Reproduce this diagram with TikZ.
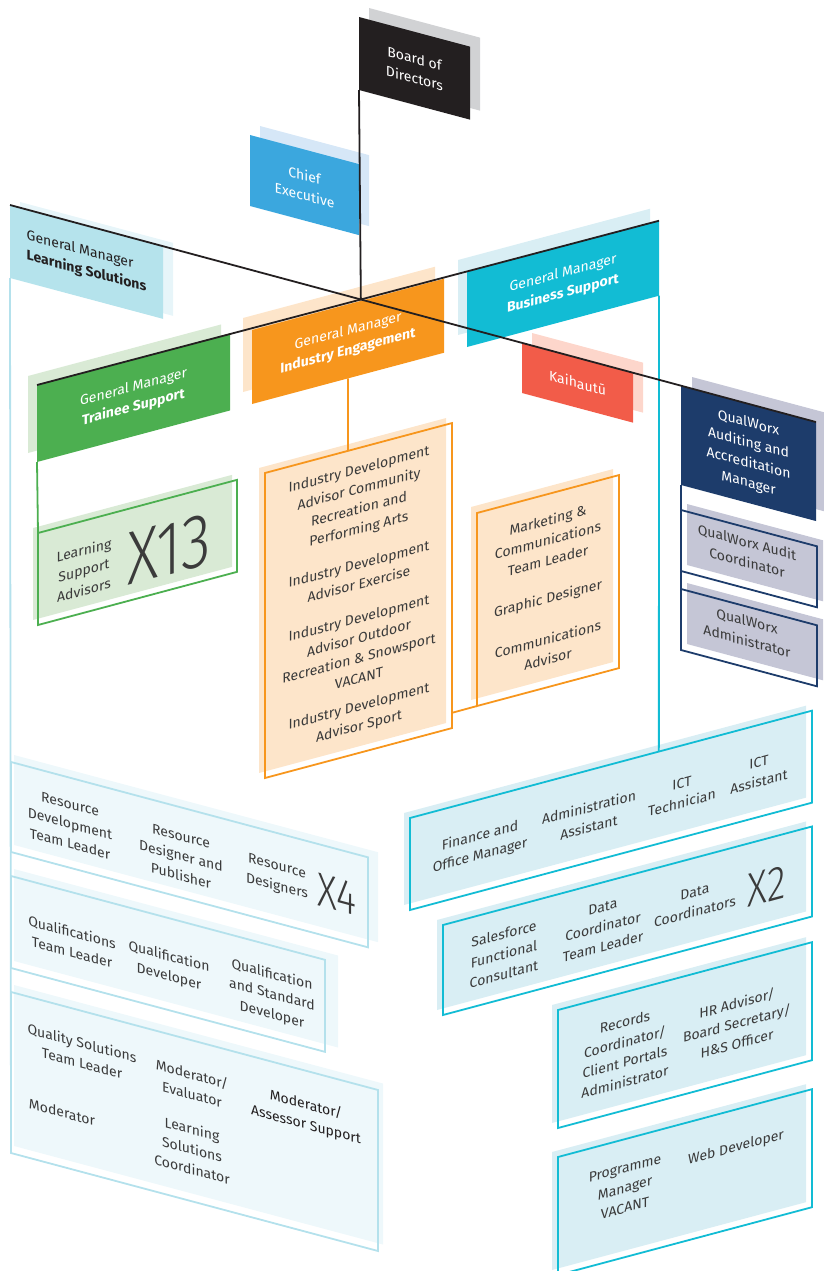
\documentclass[tikz,border=0pt]{standalone}
\usepackage{fontspec}
\setmainfont{Fira Sans}
\newfontfamily\finafont{Fira Sans Light}[FakeStretch=0.8]
\usetikzlibrary{calc}

\definecolor{negro}{HTML}{231F20}
\definecolor{grisclaro}{HTML}{D1D2D4}
\definecolor{gristexto}{HTML}{3B3B3B}
\definecolor{azul}{HTML}{3BA7DE}
\definecolor{azulclaro}{HTML}{D6E7F7}
\definecolor{celeste}{HTML}{B5E3EC}
\definecolor{celesteclaro}{HTML}{E7F5F9}
\definecolor{celestelinea}{HTML}{B4E1EC}
\definecolor{celestefondo}{HTML}{EEF8FB}
\definecolor{verde}{HTML}{4CAF50}
\definecolor{verdeclaro}{HTML}{D9EAD5}
\definecolor{naranja}{HTML}{F7961D}
\definecolor{naranjaclaro}{HTML}{FDE5CA}
\definecolor{cian}{HTML}{12BCD4}
\definecolor{cianclaro}{HTML}{D9EEF4}
\definecolor{rojo}{HTML}{F25C49}
\definecolor{rojoclaro}{HTML}{FDD6CB}
\definecolor{marino}{HTML}{1D3C6B}
\definecolor{lavanda}{HTML}{C5C6D6}

\begin{document}
\begin{tikzpicture}[x=1pt,y=-1pt,
	texto/.style={inner sep=0pt, outer sep=0pt, align=center, text=gristexto, font=\fontsize{14}{20}\selectfont},
	grande/.style={font=\finafont\fontsize{#1}{#1}\selectfont},
	baja/.style={yslant=-0.267},
	sube/.style={yslant=0.267},
	caja/.style 2 args={inner sep=0pt, outer sep=0pt, anchor=north west, minimum width=#1pt, minimum height=#2pt},
	marco/.style={line width=1.8pt},
	linea/.style={line width=1.8pt, draw=negro}
]
\useasboundingbox (0,0) rectangle (824,1271);

% Cabeceras
	\node[caja={111}{73}, baja, fill=grisclaro] at (369,8) {};
	\node[caja={111}{73}, baja, fill=negro, texto, text=white] (board) at (359,17) {Board of\\Directors};

	\node[caja={109}{71}, baja, fill=azulclaro] at (260,126) {};
	\node[caja={109}{71}, baja, fill=azul, texto, text=white] (ceo) at (250,135) {Chief\\Executive};

	\node[caja={153}{73}, baja, fill=celesteclaro] at (20,202) {};
	\node[caja={153}{73}, baja, fill=celeste, texto, align=left, text=negro] (gmls) at (10,205) {General Manager\\\textbf{Learning Solutions}};

	\node[caja={193}{77}, sube, fill=verdeclaro] at (28,376) {};
	\node[caja={193}{77}, sube, fill=verde, texto, text=white] (gmts) at (37,385) {General Manager\\\textbf{Trainee Support}};

	\node[caja={192}{74}, sube, fill=naranjaclaro] at (243,318) {};
	\node[caja={192}{74}, sube, fill=naranja, texto, text=white] (gmie) at (252,330) {General Manager\\\textbf{Industry Engagement}};

	\node[caja={192}{75}, sube, fill=cianclaro] at (458,260) {};
	\node[caja={192}{75}, sube, fill=cian, texto, text=white] (gmbs) at (467,272) {General Manager\\\textbf{Business Support}};

	\node[caja={111}{50}, baja, fill=rojoclaro] at (532,333) {};
	\node[caja={111}{50}, baja, fill=rojo, texto, text=white] (kai) at (522,343) {Kaihautū};

	\node[caja={135}{99}, baja, fill=lavanda] at (692,377) {};
	\node[caja={135}{99}, baja, fill=marino, texto, text=white] (qwm) at (681,386) {QualWorx\\Auditing and\\Accreditation\\Manager};

% Marcos
	\node[caja={199}{92}, sube, fill=verdeclaro] at (33,528) {};
	\node[caja={199}{92}, sube, draw=verde, marco] (lsa) at (38,533) {};

	\node[caja={187}{305}, sube, fill=naranjaclaro] at (259,468) {};
	\node[caja={187}{305}, sube, draw=naranja, marco] (ida) at (265,473) {};

	\node[caja={142}{193}, sube, fill=naranjaclaro] at (471,507) {};
	\node[caja={142}{193}, sube, draw=naranja, marco] (mkt) at (477,513) {};

	\node[caja={136}{61}, baja, fill=lavanda] at (687,504) {};
	\node[caja={136}{61}, baja, draw=marino, marco] (qwc) at (681,510) {};

	\node[caja={136}{61}, baja, fill=lavanda] at (687,583) {};
	\node[caja={136}{61}, baja, draw=marino, marco] (qwa) at (681,589) {};

	\node[caja={364}{90}, baja, fill=celestefondo] at (14,755) {};
	\node[caja={357}{90}, baja, draw=celestelinea, marco] (res) at (11,762) {};

	\node[caja={324}{92}, baja, fill=celestefondo] at (14,869) {};
	\node[caja={314}{92}, baja, draw=celestelinea, marco] (qlf) at (11,876) {};

	\node[caja={369}{161}, baja, fill=celestefondo] at (14,985) {};
	\node[caja={367}{161}, baja, draw=celestelinea, marco] (qual) at (11,992) {};

	\foreach \nombre/\px/\py/\w/\h in {fin/410/818/402/92, sal/443/925/369/90, rec/558/1010/254/118, prog/558/1157/254/118}
	{
		\node[caja={\w}{\h}, sube, fill=cianclaro] at (\px-6,\py-5) {};
		\node[caja={\w}{\h}, sube, draw=cian, marco] (\nombre) at (\px,\py) {};
	}

% Textos
	\node[texto, sube] (lsa-1) at (84,570) {Learning\\Support\\Advisors};
	\node[texto, sube, grande=76] (lsa-x) at (169,549) {X13};

	\foreach \py/\txt [count=\i] in {500/{Industry Development\\Advisor Community\\Recreation and\\Performing Arts},
		574/{Industry Development\\Advisor Exercise},
		648/{Industry Development\\Advisor Outdoor\\Recreation \& Snowsport\\VACANT},
		717/{Industry Development\\Advisor Sport}}
		\node[texto, sube] (ida-\i) at (359,\py) {\txt};

	\foreach \py/\txt [count=\i] in {540/{Marketing \&\\Communications\\Team Leader}, 599/{Graphic Designer}, 649/{Communications\\Advisor}}
		\node[texto, sube] (mkt-\i) at (548,\py) {\txt};

	\node[texto, baja] (qwc-1) at (747,552) {QualWorx Audit\\Coordinator};
	\node[texto, baja] (qwa-1) at (747,631) {QualWorx\\Administrator};

	\foreach \px/\py/\txt [count=\i] in {70/824/{Resource\\Development\\Team Leader}, 181/856/{Resource\\Designer and\\Publisher}, 277/877/{Resource\\Designers}}
		\node[texto, baja] (res-\i) at (\px,\py) {\txt};
	\node[texto, baja, grande=48] (res-x) at (337,894) {X4};

	\foreach \px/\py/\txt [count=\i] in {72/942/{Qualifications\\Team Leader}, 169/967/{Qualification\\Developer}, 272/995/{Qualification\\and Standard\\Developer}}
		\node[texto, baja] (qlf-\i) at (\px,\py) {\txt};

	\foreach \px/\py/\txt [count=\i] in {82/1053/{Quality Solutions\\Team Leader}, 192/1084/{Moderator/\\Evaluator}, 62/1112/{Moderator}, 192/1149/{Learning\\Solutions\\Coordinator}}
		\node[texto, baja] (qual-\i) at (\px,\py) {\txt};
	\node[texto, baja, text=negro] (qual-5) at (306,1115) {Moderator/\\Assessor Support};

	\foreach \px/\py/\txt [count=\i] in {480/846/{Finance and\\Office Manager}, 589/817/{Administration\\Assistant}, 682/793/{ICT\\Technician}, 759/772/{ICT\\Assistant}}
		\node[texto, sube] (fin-\i) at (\px,\py) {\txt};

	\foreach \px/\py/\txt [count=\i] in {504/954/{Salesforce\\Functional\\Consultant}, 603/927/{Data\\Coordinator\\Team Leader}, 695/902/{Data\\Coordinators}}
		\node[texto, sube] (sal-\i) at (\px,\py) {\txt};
	\node[texto, sube, grande=48] (sal-x) at (767,886) {X2};

	\node[texto, sube] (rec-1) at (625,1052) {Records\\Coordinator/\\Client Portals\\Administrator};
	\node[texto, sube] (rec-2) at (737,1023) {HR Advisor/\\Board Secretary/\\H\&S Officer};
	\node[texto, sube] (prog-1) at (625,1188) {Programme\\Manager\\VACANT};
	\node[texto, sube] (prog-2) at (736,1148) {Web Developer};

% Conectores
	\draw[celestelinea, marco] (gmls.south west) -- (qual.south west);
	\draw[verde, marco] (gmts.south west) -- (lsa.north west);
	\draw[naranja, marco] (gmie.south) -- ($(ida.north west)!0.444!(ida.north east)$);
	\draw[naranja, marco] ($(ida.north east)!0.95!(ida.south east)$) -- (mkt.south west);
	\draw[cian, marco] (gmbs.south east) -- ($(fin.north west)!0.619!(fin.north east)$);
	\draw[marino, marco] (qwm.south west) -- (qwc.north west);
	\draw[marino, marco] (qwc.south west) -- (qwa.north west);

	\draw[linea] (gmls.north west) -- (qwm.north east);
	\draw[linea] (gmts.north west) -- (gmbs.north east);
	\coordinate (cruce) at (intersection of gmls.north west--qwm.north east and gmts.north west--gmbs.north east);
	\draw[linea] (board.south west) -- (cruce);
\end{tikzpicture}
\end{document}
